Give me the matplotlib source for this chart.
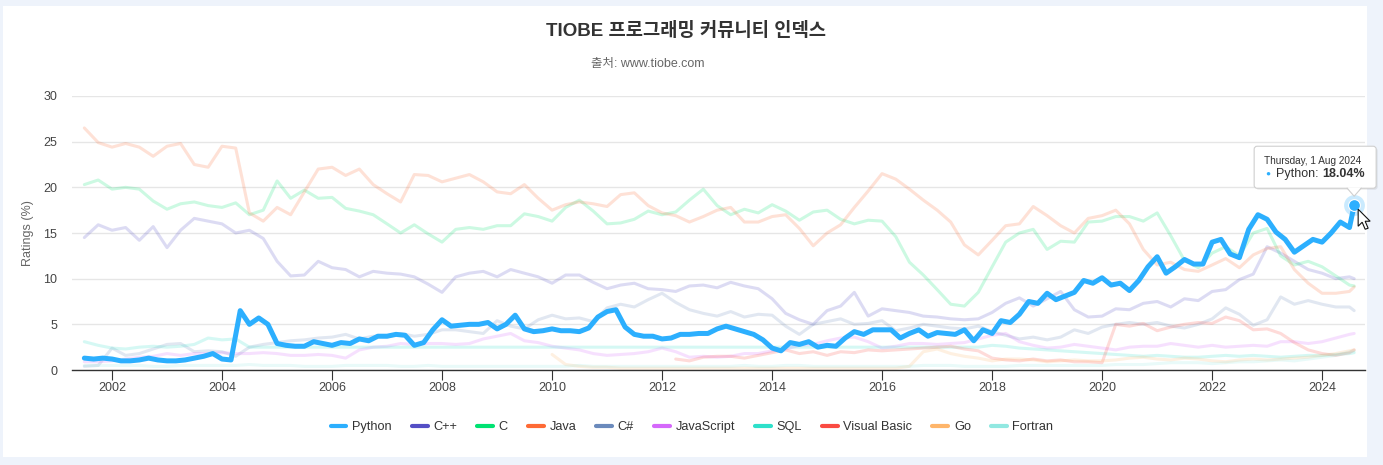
import matplotlib
matplotlib.use("Agg")
import matplotlib.pyplot as plt
import matplotlib.dates as mdates
from matplotlib.lines import Line2D
from matplotlib.patches import FancyBboxPatch, Polygon, Rectangle
from matplotlib.transforms import IdentityTransform
import numpy as np
import pandas as pd

plt.rcParams['font.family'] = ['Liberation Sans', 'Noto Sans CJK KR', 'DejaVu Sans']

W, H = 1383, 465
nan = np.nan

# ---------------- data ----------------
# quarterly points Jul 2001 .. Jul 2024, then Aug 2024
quarters = list(pd.date_range('2001-07-01', '2024-07-01', freq='QS')) + [pd.Timestamp('2024-08-01')]
# python is drawn every two months
bimonthly = list(pd.date_range('2001-07-01', '2024-07-01', freq='2MS')) + [pd.Timestamp('2024-08-01')]

python = [1.3, 1.2, 1.3,
          1.2, 1.0, 1.0, 1.1, 1.3, 1.1,
          1.0, 1.0, 1.1, 1.3, 1.5, 1.8,
          1.2, 1.1, 6.5, 5.0, 5.7, 5.0,
          2.9, 2.7, 2.6, 2.6, 3.1, 2.9,
          2.7, 3.0, 2.9, 3.4, 3.2, 3.7,
          3.7, 3.9, 3.8, 2.7, 3.0, 4.4,
          5.5, 4.8, 4.9, 5.0, 5.0, 5.2,
          4.5, 5.0, 6.0, 4.5, 4.2, 4.3,
          4.5, 4.3, 4.3, 4.2, 4.6, 5.8,
          6.4, 6.6, 4.7, 3.9, 3.7, 3.7,
          3.4, 3.5, 3.9, 3.9, 4.0, 4.0,
          4.5, 4.8, 4.5, 4.2, 3.9, 3.3,
          2.4, 2.1, 3.0, 2.8, 3.1, 2.5,
          2.7, 2.6, 3.5, 4.2, 3.9, 4.4,
          4.4, 4.4, 3.5, 4.0, 4.4, 3.7,
          4.1, 4.0, 3.9, 4.4, 3.2, 4.4,
          4.0, 5.4, 5.2, 6.1, 7.5, 7.3,
          8.4, 7.7, 8.1, 8.5, 9.8, 9.5,
          10.1, 9.3, 9.5, 8.7, 9.8, 11.3,
          12.4, 10.6, 11.3, 12.1, 11.6, 11.6,
          14.0, 14.3, 12.7, 12.3, 15.4, 17.0,
          16.5, 15.1, 14.3, 12.9, 13.6, 14.3,
          14.0, 15.0, 16.2, 15.6,
          18.04]

cpp = [14.5, 15.9,
       15.3, 15.6, 14.2, 15.7,
       13.4, 15.3, 16.6, 16.3,
       16.0, 15.0, 15.3, 14.4,
       11.9, 10.3, 10.4, 11.9,
       11.2, 11.0, 10.2, 10.8,
       10.6, 10.5, 10.2, 9.4,
       8.5, 10.2, 10.6, 10.8,
       10.2, 11.0, 10.6, 10.2,
       9.5, 10.4, 10.4, 9.6,
       8.9, 9.3, 9.5, 8.9,
       8.8, 8.6, 9.2, 9.3,
       9.0, 9.6, 9.2, 8.9,
       7.8, 6.2, 5.5, 5.0,
       6.5, 7.0, 8.5, 5.9,
       6.7, 6.5, 6.3, 5.9,
       5.8, 5.6, 5.5, 5.6,
       6.3, 7.3, 7.9, 7.0,
       7.8, 8.6, 6.6, 5.8,
       5.9, 6.7, 6.6, 7.3,
       7.5, 6.9, 7.8, 7.6,
       8.6, 8.8, 9.9, 10.5,
       13.5, 12.8, 11.9, 11.0,
       10.6, 10.0, 10.2,
       10.0]

c_lang = [20.3, 20.8,
          19.8, 20.0, 19.8, 18.5,
          17.6, 18.2, 18.4, 18.0,
          17.8, 18.3, 17.0, 17.5,
          20.7, 18.8, 19.7, 18.8,
          18.9, 17.7, 17.4, 17.0,
          16.0, 15.0, 15.9, 14.9,
          14.0, 15.4, 15.6, 15.4,
          15.8, 15.8, 17.1, 16.8,
          16.3, 17.8, 18.6, 17.4,
          16.0, 16.1, 16.5, 17.4,
          17.0, 17.3, 18.6, 19.8,
          18.0, 17.0, 17.6, 17.2,
          18.1, 17.4, 16.4, 17.3,
          17.5, 16.5, 16.0, 16.4,
          16.3, 14.6, 11.8, 10.4,
          8.8, 7.2, 7.0, 8.5,
          11.3, 14.0, 15.0, 15.4,
          13.2, 14.1, 14.0, 16.2,
          16.3, 16.8, 16.8, 16.3,
          17.2, 14.7, 12.0, 11.2,
          12.8, 13.5, 12.5, 15.0,
          15.5, 12.5, 11.5, 11.9,
          11.3, 10.3, 9.3,
          9.2]

java = [26.5, 24.9,
        24.4, 24.8, 24.4, 23.4,
        24.5, 24.8, 22.5, 22.2,
        24.5, 24.3, 17.2, 16.3,
        17.8, 17.0, 19.5, 22.0,
        22.2, 21.3, 22.0, 20.3,
        19.3, 18.4, 21.4, 21.3,
        20.6, 21.0, 21.4, 20.6,
        19.5, 19.3, 20.3, 18.8,
        17.5, 18.1, 18.4, 18.2,
        17.9, 19.2, 19.4, 18.0,
        17.2, 16.9, 16.2, 16.8,
        17.5, 17.8, 16.2, 16.2,
        16.8, 17.0, 15.5, 13.6,
        15.0, 15.9, 17.8, 19.6,
        21.5, 20.9, 19.8, 18.6,
        17.5, 16.2, 13.7, 12.6,
        14.2, 15.8, 16.0, 17.9,
        16.9, 15.8, 15.0, 16.6,
        16.9, 17.5, 16.0, 13.2,
        11.5, 11.8, 11.0, 10.8,
        11.5, 12.2, 11.2, 12.6,
        13.3, 13.5, 11.0, 9.5,
        8.4, 8.4, 8.6,
        9.1]

csharp = [0.4, 0.5,
          2.4, 1.6, 1.8, 2.3,
          2.8, 2.9, 2.0, 2.1,
          2.0, 1.5, 2.5, 2.8,
          3.0, 3.2, 3.3, 3.5,
          3.6, 3.9, 3.4, 3.7,
          3.6, 4.0, 3.7, 3.9,
          4.4, 4.4, 4.2, 4.0,
          5.4, 4.8, 4.5, 5.5,
          6.0, 5.6, 5.7, 5.3,
          6.8, 7.2, 6.9, 7.7,
          8.4, 7.4, 6.6, 6.2,
          5.9, 6.4, 5.8, 6.1,
          6.0, 4.8, 3.9, 5.0,
          5.3, 5.6, 5.0, 5.1,
          5.4, 4.3, 4.6, 5.0,
          4.8, 4.6, 4.5, 4.8,
          4.2, 3.8, 3.4, 3.6,
          3.3, 3.6, 4.4, 4.0,
          4.7, 5.0, 5.2, 5.0,
          5.2, 4.8, 4.6, 5.0,
          5.6, 6.8, 6.1, 4.9,
          5.5, 8.0, 7.2, 7.6,
          7.2, 6.9, 6.9,
          6.5]

javascript = [0.9, 0.9,
              1.0, 1.2, 1.4, 1.5,
              1.8, 1.6, 1.8, 1.8,
              1.9, 1.8, 1.8, 1.9,
              1.8, 1.6, 1.6, 1.7,
              1.6, 1.3, 2.2, 2.5,
              2.6, 2.9, 2.8, 2.9,
              2.9, 2.8, 2.9, 3.4,
              3.7, 4.0, 3.2, 3.0,
              2.6, 2.4, 2.2, 1.8,
              1.6, 1.7, 1.8, 2.0,
              2.4, 2.0, 1.4, 1.5,
              1.4, 1.5, 1.8, 1.8,
              2.1, 2.3, 2.7, 2.8,
              3.2, 3.5, 3.6, 3.1,
              2.4, 2.6, 2.9, 2.9,
              2.8, 2.9, 3.0, 3.4,
              3.8, 4.0, 3.1, 2.7,
              2.4, 2.5, 2.8, 2.6,
              2.4, 2.2, 2.5, 2.6,
              2.6, 2.9, 2.7, 2.5,
              2.7, 2.5, 2.6, 2.7,
              2.6, 3.1, 3.1, 2.9,
              3.1, 3.5, 3.9,
              4.0]

# SQL has no values between mid 2004 and 2018 (the chart joins the gap)
sql = [3.1, 2.7,
       2.4, 2.3, 2.5, 2.6,
       2.5, 2.6, 2.8, 3.5,
       3.3, 3.4, 2.5, nan,
       nan, nan, nan, nan,
       nan, nan, nan, nan,
       nan, nan, nan, nan,
       nan, nan, nan, nan,
       nan, nan, nan, nan,
       nan, nan, nan, nan,
       nan, nan, nan, nan,
       nan, nan, nan, nan,
       nan, nan, nan, nan,
       nan, nan, nan, nan,
       nan, nan, nan, nan,
       nan, nan, nan, nan,
       nan, nan, nan, 2.5,
       2.7, 2.6, 2.4, 2.3,
       2.2, 2.1, 2.0, 1.9,
       1.8, 1.7, 1.6, 1.5,
       1.6, 1.5, 1.4, 1.4,
       1.5, 1.6, 1.5, 1.6,
       1.5, 1.4, 1.5, 1.6,
       1.6, 1.7, 1.8,
       1.9]

visual_basic = [nan, nan,
                nan, nan, nan, nan,
                nan, nan, nan, nan,
                nan, nan, nan, nan,
                nan, nan, nan, nan,
                nan, nan, nan, nan,
                nan, nan, nan, nan,
                nan, nan, nan, nan,
                nan, nan, nan, nan,
                nan, nan, nan, nan,
                nan, nan, nan, nan,
                nan, 1.2, 1.0, 1.4,
                1.5, 1.5, 1.3, 1.6,
                1.9, 2.2, 1.8, 2.0,
                1.6, 2.0, 1.9, 2.2,
                2.1, 2.2, 2.3, 2.4,
                2.5, 2.6, 2.3, 2.1,
                1.3, 1.1, 1.0, 1.2,
                1.0, 1.1, 0.9, 0.9,
                0.8, 5.0, 4.8, 5.1,
                4.3, 4.7, 5.0, 5.2,
                5.1, 5.8, 5.4, 4.4,
                4.5, 4.0, 3.0, 2.2,
                1.8, 1.6, 1.9,
                2.2]

go = [nan, nan,
      nan, nan, nan, nan,
      nan, nan, nan, nan,
      nan, nan, nan, nan,
      nan, nan, nan, nan,
      nan, nan, nan, nan,
      nan, nan, nan, nan,
      nan, nan, nan, nan,
      nan, nan, nan, nan,
      1.7, 0.6, 0.4, 0.3,
      0.3, 0.2, 0.2, 0.2,
      0.2, 0.2, 0.2, 0.2,
      0.2, 0.2, 0.2, 0.2,
      0.2, 0.2, 0.2, 0.2,
      0.2, 0.2, 0.2, 0.2,
      0.2, 0.2, 0.4, 2.0,
      2.3, 1.8, 1.5, 1.3,
      1.0, 1.2, 1.2, 1.1,
      0.9, 1.0, 1.1, 1.0,
      1.0, 1.1, 1.3, 1.4,
      1.2, 1.1, 1.3, 1.2,
      1.0, 0.9, 1.1, 1.2,
      1.1, 1.2, 1.3, 1.4,
      1.6, 1.8, 2.1,
      2.2]

fortran = [0.5, 0.5,
           0.5, 0.5, 0.5, 0.4,
           0.4, 0.5, 0.5, 0.5,
           0.5, 0.5, 0.6, 0.5,
           0.5, 0.5, 0.4, 0.4,
           0.4, 0.5, 0.5, 0.5,
           0.5, 0.4, 0.4, 0.5,
           0.4, 0.4, 0.4, 0.4,
           0.4, 0.4, 0.4, 0.4,
           0.4, 0.4, 0.5, 0.4,
           0.4, 0.4, 0.4, 0.4,
           0.4, 0.4, 0.4, 0.4,
           0.4, 0.4, 0.5, 0.4,
           0.4, 0.5, 0.5, 0.4,
           0.4, 0.4, 0.4, 0.4,
           0.4, 0.4, 0.4, 0.5,
           0.5, 0.5, 0.4, 0.4,
           0.4, 0.4, 0.5, 0.5,
           0.5, 0.5, 0.5, 0.5,
           0.5, 0.6, 0.6, 0.6,
           0.7, 0.8, 0.8, 0.8,
           0.7, 0.8, 0.9, 0.9,
           1.0, 1.1, 1.0, 1.2,
           1.4, 1.6, 2.0,
           2.1]

names = ["Python", "C++", "C", "Java", "C#", "JavaScript", "SQL", "Visual Basic", "Go", "Fortran"]
colors = ["#2caffe", "#544fc5", "#00e272", "#fe6a35", "#6b8abc",
          "#d568fb", "#2ee0ca", "#fa4b42", "#feb56a", "#91e8e1"]
faded = [cpp, c_lang, java, csharp, javascript, sql, visual_basic, go, fortran]

# ---------------- figure ----------------
fig = plt.figure(figsize=(W / 100, H / 100), dpi=100)
fig.patch.set_facecolor("#eef3fb")
fig.add_artist(Rectangle((3, 8), 1364, 451, transform=IdentityTransform(),
                         facecolor="white", edgecolor="none", zorder=-5))

ax = fig.add_axes([72 / W, (H - 370) / H, (1365 - 72) / W, (370 - 96) / H])
ax.set_facecolor("none")

for vals, col in zip(faded, colors[1:]):
    s = pd.Series(vals, index=quarters, dtype=float).dropna()
    ax.plot(s.index, s.values, color=col, lw=2.2, alpha=0.2,
            solid_joinstyle="round", solid_capstyle="round", zorder=2)

ax.plot(bimonthly, python, color=colors[0], lw=3.6,
        solid_joinstyle="round", solid_capstyle="round", zorder=5)

# hovered point
ax.plot([bimonthly[-1]], [python[-1]], "o", ms=15, color=colors[0], alpha=0.25,
        mec="none", zorder=6)
ax.plot([bimonthly[-1]], [python[-1]], "o", ms=8.5, color=colors[0], mec="white",
        mew=0.8, zorder=7)

ax.set_ylim(0, 30)
ax.set_xlim(pd.Timestamp("2001-04-10"), pd.Timestamp("2024-10-12"))
ax.set_yticks(range(0, 31, 5))
ax.grid(axis="y", color="#e6e6e6", lw=1)
ax.set_axisbelow(True)
for sp in ["top", "right", "left"]:
    ax.spines[sp].set_visible(False)
ax.spines["bottom"].set_color("#333333")
ax.spines["bottom"].set_linewidth(1)
ax.xaxis.set_major_locator(mdates.YearLocator(2))
ax.xaxis.set_major_formatter(mdates.DateFormatter("%Y"))
ax.tick_params(axis="x", length=7.2, width=0.8, color="#333333", pad=1.5,
               labelsize=9, labelcolor="#444444")
ax.tick_params(axis="y", length=0, pad=10.5, labelsize=9, labelcolor="#444444")

# titles
fig.text(686 / W, 1 - 31 / H, "TIOBE 프로그래밍 커뮤니티 인덱스", ha="center", va="center",
         fontsize=13.5, fontweight="bold", color="#333333")
fig.text(648 / W, 1 - 64 / H, "출처: www.tiobe.com", ha="center", va="center",
         fontsize=9, color="#666666")
fig.text(28 / W, 1 - 233 / H, "Ratings (%)", ha="center", va="center",
         rotation=90, fontsize=9, color="#666666")

# legend
handles = [Line2D([], [], color=c, lw=3, solid_capstyle="round") for c in colors]
fig.legend(handles, names, loc="center", bbox_to_anchor=(692 / W, 1 - 427 / H),
           ncol=10, frameon=False, fontsize=9.2, handlelength=1.25,
           handletextpad=0.45, columnspacing=1.55, labelcolor="#333333")

# tooltip
x0 = mdates.date2num(bimonthly[-1])
px, py = ax.transData.transform((x0, python[-1]))
bx, by, bw, bh = px - 100, py + 17, 122, 42
fig.add_artist(FancyBboxPatch((bx + 1.5, by - 1.5), bw, bh, boxstyle="round,pad=0,rounding_size=3",
                              transform=IdentityTransform(), facecolor="#000000",
                              alpha=0.08, edgecolor="none", zorder=20))
fig.add_artist(FancyBboxPatch((bx, by), bw, bh, boxstyle="round,pad=0,rounding_size=3",
                              transform=IdentityTransform(), facecolor="white",
                              edgecolor="#cfcfcf", lw=0.8, zorder=21))
fig.add_artist(Polygon([(px - 7, by + 0.8), (px, py + 9), (px + 7, by + 0.8)],
                       closed=True, transform=IdentityTransform(), facecolor="white",
                       edgecolor="none", zorder=22))
fig.add_artist(Line2D([px - 7, px, px + 7], [by, py + 9, by], transform=IdentityTransform(),
                      color="#cfcfcf", lw=0.8, zorder=22))
fig.text(bx + 10, by + 27, "Thursday, 1 Aug 2024", transform=IdentityTransform(),
         fontsize=7.2, color="#333333", va="center", ha="left", zorder=23)
fig.text(bx + 14, by + 14, "●", transform=IdentityTransform(), fontsize=6,
         color=colors[0], va="center", ha="center", zorder=23)
t1 = fig.text(bx + 22, by + 14, "Python: ", transform=IdentityTransform(),
              fontsize=9, color="#333333", va="center", ha="left", zorder=23)
r = fig.canvas.get_renderer()
ext = t1.get_window_extent(r)
fig.text(ext.x1, by + 14, "18.04%", transform=IdentityTransform(),
         fontsize=9, fontweight="bold", color="#333333", va="center", ha="left", zorder=23)

# mouse pointer
cx, cy = px + 4, py - 4
arrow = [(0, 0), (0, 17), (4, 13), (7, 20), (10, 19), (7, 12), (12, 12)]
fig.add_artist(Polygon([(cx + a, cy - b) for a, b in arrow], closed=True,
                       transform=IdentityTransform(), facecolor="white",
                       edgecolor="#111111", lw=0.8, zorder=30))

fig.savefig("out.png", dpi=100, facecolor=fig.get_facecolor())
